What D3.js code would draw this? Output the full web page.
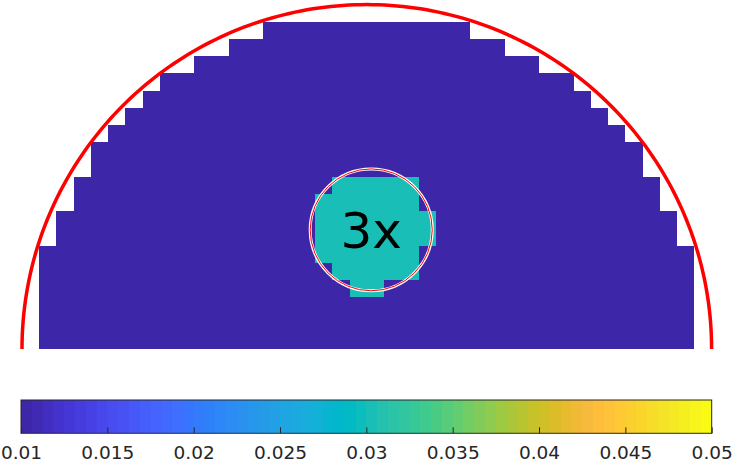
<!DOCTYPE html>
<html>
<head>
<meta charset="utf-8">
<title>Semicircle model</title>
<script src="https://cdnjs.cloudflare.com/ajax/libs/d3/7.8.5/d3.min.js"></script>
<style>
  body { margin: 0; background: #fff; }
  svg { display: block; font-family: "DejaVu Sans", sans-serif; }
</style>
</head>
<body>
<div id="chart"></div>
<script>
// model grid, bottom row first: half-width of each row in cells
const cellSize = 0.05;
const rowHalfWidths = [19, 19, 19, 19, 19, 19, 18, 18, 17, 17, 16, 16, 15, 14, 13, 12, 10, 8, 6];
// cells holding the inclusion (row index, first column, column after last)
const inclusionRows = [3, 4, 5, 6, 7, 8, 9];
const inclusionFrom = [-1, -2, -3, -3, -3, -3, -2];
const inclusionTo = [1, 3, 3, 4, 4, 3, 3];
const backgroundValue = 0.01;
const inclusionValue = 0.03;
// outline of the domain and of the true inclusion
const domainRadius = 1;
const inclusionCircle = { cx: 0.0128, cy: 0.346, r: 0.177 };
const inclusionLabel = '3x';
// colorbar
const colorLimits = [0.01, 0.05];
const colorTicks = [0.01, 0.015, 0.02, 0.025, 0.03, 0.035, 0.04, 0.045, 0.05];
const colorTickLabels = ['0.01', '0.015', '0.02', '0.025', '0.03', '0.035', '0.04', '0.045', '0.05'];

// parula(64)
const parula = [
  [0.2422,0.1504,0.6603],[0.2504,0.1650,0.7076],[0.2578,0.1818,0.7511],[0.2647,0.1978,0.7952],
  [0.2706,0.2147,0.8364],[0.2751,0.2342,0.8710],[0.2783,0.2559,0.8991],[0.2803,0.2782,0.9221],
  [0.2813,0.3006,0.9414],[0.2810,0.3228,0.9579],[0.2795,0.3447,0.9717],[0.2760,0.3667,0.9829],
  [0.2699,0.3892,0.9906],[0.2602,0.4123,0.9952],[0.2440,0.4358,0.9988],[0.2206,0.4603,0.9973],
  [0.1963,0.4847,0.9892],[0.1834,0.5074,0.9798],[0.1786,0.5289,0.9682],[0.1764,0.5499,0.9520],
  [0.1687,0.5703,0.9359],[0.1540,0.5902,0.9218],[0.1460,0.6091,0.9079],[0.1380,0.6276,0.8973],
  [0.1248,0.6459,0.8883],[0.1113,0.6635,0.8763],[0.0952,0.6798,0.8598],[0.0689,0.6948,0.8394],
  [0.0297,0.7082,0.8163],[0.0036,0.7203,0.7917],[0.0067,0.7312,0.7660],[0.0433,0.7411,0.7394],
  [0.0964,0.7500,0.7120],[0.1408,0.7584,0.6842],[0.1717,0.7670,0.6554],[0.1938,0.7758,0.6251],
  [0.2161,0.7843,0.5923],[0.2470,0.7918,0.5567],[0.2906,0.7973,0.5188],[0.3406,0.8008,0.4789],
  [0.3909,0.8029,0.4354],[0.4456,0.8024,0.3909],[0.5044,0.7993,0.3480],[0.5616,0.7942,0.3045],
  [0.6174,0.7876,0.2612],[0.6720,0.7793,0.2227],[0.7242,0.7698,0.1910],[0.7738,0.7598,0.1646],
  [0.8203,0.7498,0.1535],[0.8634,0.7406,0.1596],[0.9035,0.7330,0.1774],[0.9393,0.7288,0.2100],
  [0.9728,0.7298,0.2394],[0.9956,0.7434,0.2371],[0.9970,0.7659,0.2199],[0.9952,0.7893,0.2028],
  [0.9892,0.8136,0.1885],[0.9786,0.8386,0.1766],[0.9676,0.8639,0.1643],[0.9610,0.8890,0.1537],
  [0.9597,0.9135,0.1423],[0.9628,0.9373,0.1265],[0.9691,0.9606,0.1064],[0.9769,0.9839,0.0805]
].map(c => d3.rgb(c[0] * 255, c[1] * 255, c[2] * 255).formatHex());

// matlab style lookup: index = fix((v - cmin) / (cmax - cmin) * m)
const norm = d3.scaleLinear().domain(colorLimits).range([0, parula.length]).clamp(true);
const color = v => parula[Math.min(parula.length - 1, Math.floor(norm(v) + 1e-9))];

const width = 735, height = 463;
const svg = d3.select('#chart').append('svg')
  .attr('width', width)
  .attr('height', height);

const x = d3.scaleLinear().domain([-domainRadius, domainRadius]).range([22, 711.6]);
const y = d3.scaleLinear().domain([0, domainRadius]).range([349, 4.6]);

// build the cell list from the row tables
const cells = [];
rowHalfWidths.forEach((hw, k) => {
  const i = inclusionRows.indexOf(k);
  for (let c = -hw; c < hw; c++) {
    const inside = i >= 0 && c >= inclusionFrom[i] && c < inclusionTo[i];
    cells.push({ x0: c * cellSize, y0: k * cellSize, value: inside ? inclusionValue : backgroundValue });
  }
});

svg.append('g')
  .attr('shape-rendering', 'crispEdges')
  .selectAll('rect')
  .data(cells)
  .join('rect')
    .attr('x', d => Math.round(x(d.x0)))
    .attr('y', d => Math.round(y(d.y0 + cellSize)))
    .attr('width', d => Math.round(x(d.x0 + cellSize)) - Math.round(x(d.x0)))
    .attr('height', d => Math.round(y(d.y0)) - Math.round(y(d.y0 + cellSize)))
    .attr('fill', d => color(d.value));

// domain boundary
const angles = d3.range(0, 181, 1).map(a => a * Math.PI / 180);
svg.append('path')
  .datum(angles)
  .attr('d', d3.line()
    .x(a => x(domainRadius * Math.cos(a)))
    .y(a => y(domainRadius * Math.sin(a))))
  .attr('fill', 'none')
  .attr('stroke', '#ff0000')
  .attr('stroke-width', 3.5);

// true inclusion outline
const rx = x(inclusionCircle.r) - x(0);
const ry = y(0) - y(inclusionCircle.r);
svg.append('ellipse')
  .attr('cx', x(inclusionCircle.cx))
  .attr('cy', y(inclusionCircle.cy))
  .attr('rx', rx).attr('ry', ry)
  .attr('fill', 'none')
  .attr('stroke', '#ffffff')
  .attr('stroke-width', 3);
svg.append('ellipse')
  .attr('cx', x(inclusionCircle.cx))
  .attr('cy', y(inclusionCircle.cy))
  .attr('rx', rx).attr('ry', ry)
  .attr('fill', 'none')
  .attr('stroke', '#ff0000')
  .attr('stroke-width', 1);

svg.append('text')
  .attr('x', x(inclusionCircle.cx))
  .attr('y', y(inclusionCircle.cy) + 18)
  .attr('text-anchor', 'middle')
  .style('font-size', '50px')
  .attr('fill', '#000')
  .text(inclusionLabel);

// colorbar
const cbTop = 400, cbHeight = 33.3;
const cx = d3.scaleLinear().domain(colorLimits).range([21, 711.7]);
const step = (colorLimits[1] - colorLimits[0]) / parula.length;
svg.append('g')
  .attr('shape-rendering', 'crispEdges')
  .selectAll('rect')
  .data(parula)
  .join('rect')
    .attr('x', (c, i) => Math.round(cx(colorLimits[0] + i * step)))
    .attr('y', cbTop)
    .attr('width', (c, i) => Math.round(cx(colorLimits[0] + (i + 1) * step)) - Math.round(cx(colorLimits[0] + i * step)))
    .attr('height', cbHeight)
    .attr('fill', c => c);

svg.append('rect')
  .attr('x', cx(colorLimits[0]))
  .attr('y', cbTop)
  .attr('width', cx(colorLimits[1]) - cx(colorLimits[0]))
  .attr('height', cbHeight)
  .attr('fill', 'none')
  .attr('stroke', '#262626')
  .attr('stroke-width', 1);

const axis = svg.append('g')
  .attr('transform', `translate(0,${cbTop + cbHeight})`)
  .call(d3.axisBottom(cx)
    .tickValues(colorTicks)
    .tickFormat((d, i) => colorTickLabels[i])
    .tickSizeInner(-6)
    .tickSizeOuter(0)
    .tickPadding(12.5));
axis.select('.domain').remove();
axis.selectAll('line').attr('stroke', '#262626');
axis.selectAll('text')
  .attr('fill', '#262626')
  .style('font-size', '18.5px')
  .style('font-family', '"DejaVu Sans", sans-serif');
</script>
</body>
</html>
